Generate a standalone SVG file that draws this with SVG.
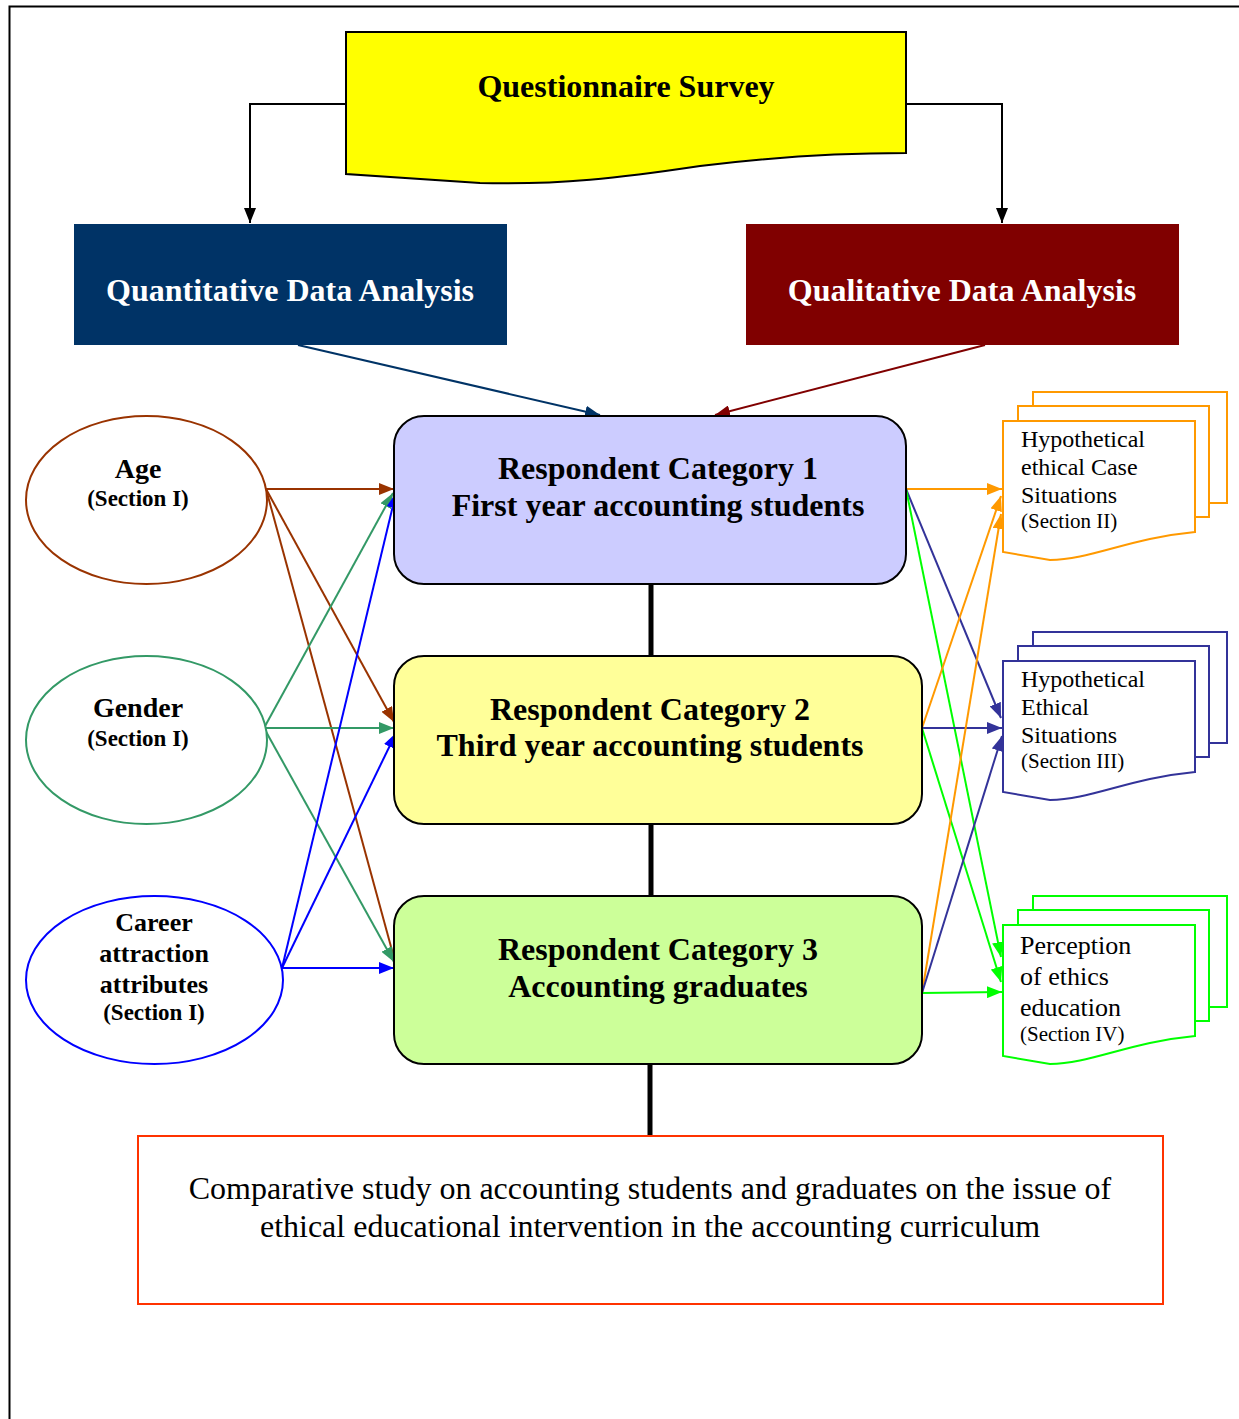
<svg xmlns="http://www.w3.org/2000/svg" width="1239" height="1419" viewBox="0 0 1239 1419">
  <style>
    .b { font-family: "Liberation Serif", "Times New Roman", serif; font-weight: bold; }
    .r { font-family: "Liberation Serif", "Times New Roman", serif; }
    .c { text-anchor: middle; }
    .cat { font-size: 32px; fill: #000; }
    .head { font-size: 32px; fill: #fff; }
    .ell { fill: #fff; stroke-width: 2; }
    .page { fill: #fff; stroke-width: 2; }
    .doc { font-size: 24px; fill: #000; }
    .sec { font-size: 21px; fill: #000; }
    .ln { fill: none; stroke-width: 2; }
    .thick { stroke: #000; stroke-width: 5; }
  </style>
  <defs>
    <marker id="mBlack" markerUnits="userSpaceOnUse" viewBox="0 0 15 12" refX="15" refY="6" markerWidth="15" markerHeight="12" orient="auto"><path d="M0,0 L15,6 L0,12 Z" fill="#000"/></marker>
    <marker id="mNavyDark" markerUnits="userSpaceOnUse" viewBox="0 0 15 12" refX="15" refY="6" markerWidth="15" markerHeight="12" orient="auto"><path d="M0,0 L15,6 L0,12 Z" fill="#003366"/></marker>
    <marker id="mMaroon" markerUnits="userSpaceOnUse" viewBox="0 0 15 12" refX="15" refY="6" markerWidth="15" markerHeight="12" orient="auto"><path d="M0,0 L15,6 L0,12 Z" fill="#800000"/></marker>
    <marker id="mBrown" markerUnits="userSpaceOnUse" viewBox="0 0 15 12" refX="15" refY="6" markerWidth="15" markerHeight="12" orient="auto"><path d="M0,0 L15,6 L0,12 Z" fill="#993300"/></marker>
    <marker id="mSea" markerUnits="userSpaceOnUse" viewBox="0 0 15 12" refX="15" refY="6" markerWidth="15" markerHeight="12" orient="auto"><path d="M0,0 L15,6 L0,12 Z" fill="#339966"/></marker>
    <marker id="mBlue" markerUnits="userSpaceOnUse" viewBox="0 0 15 12" refX="15" refY="6" markerWidth="15" markerHeight="12" orient="auto"><path d="M0,0 L15,6 L0,12 Z" fill="#0000FF"/></marker>
    <marker id="mOrange" markerUnits="userSpaceOnUse" viewBox="0 0 15 12" refX="15" refY="6" markerWidth="15" markerHeight="12" orient="auto"><path d="M0,0 L15,6 L0,12 Z" fill="#FF9900"/></marker>
    <marker id="mIndigo" markerUnits="userSpaceOnUse" viewBox="0 0 15 12" refX="15" refY="6" markerWidth="15" markerHeight="12" orient="auto"><path d="M0,0 L15,6 L0,12 Z" fill="#333399"/></marker>
    <marker id="mLime" markerUnits="userSpaceOnUse" viewBox="0 0 15 12" refX="15" refY="6" markerWidth="15" markerHeight="12" orient="auto"><path d="M0,0 L15,6 L0,12 Z" fill="#00FF00"/></marker>
    <!-- stacked document shape: three pages, front page with wavy bottom -->
    <g id="docStack">
      <rect class="page" x="1033" y="392" width="194" height="111"/>
      <rect class="page" x="1018" y="406" width="191" height="111"/>
      <path class="page" d="M1003,421 H1195 V532 C1130,538 1090,560 1050,560 L1003,552 Z"/>
    </g>
  </defs>

  <rect width="1239" height="1419" fill="#fff"/>
  <!-- page frame -->
  <path d="M9.5,1419 V6.5 H1239" fill="none" stroke="#000" stroke-width="2"/>

  <g id="connectors">
    <!-- survey to analysis boxes -->
    <path class="ln" stroke="#000" d="M346,104 H250 V223" marker-end="url(#mBlack)"/>
    <path class="ln" stroke="#000" d="M906,104 H1002 V223" marker-end="url(#mBlack)"/>
    <!-- analysis boxes to category 1 -->
    <line class="ln" stroke="#003366" x1="298" y1="345" x2="600" y2="415" marker-end="url(#mNavyDark)"/>
    <line class="ln" stroke="#800000" x1="985" y1="345" x2="715" y2="415" marker-end="url(#mMaroon)"/>
    <!-- category spine -->
    <line class="thick" x1="651" y1="584" x2="651" y2="656"/>
    <line class="thick" x1="651" y1="824" x2="651" y2="896"/>
    <line class="thick" x1="650" y1="1064" x2="650" y2="1136"/>
    <!-- age -->
    <line class="ln" stroke="#993300" x1="266" y1="489" x2="394" y2="489" marker-end="url(#mBrown)"/>
    <line class="ln" stroke="#993300" x1="266" y1="489" x2="394" y2="722" marker-end="url(#mBrown)"/>
    <line class="ln" stroke="#993300" x1="266" y1="489" x2="396" y2="965" marker-end="url(#mBrown)"/>
    <!-- gender -->
    <line class="ln" stroke="#339966" x1="264" y1="728" x2="393" y2="493" marker-end="url(#mSea)"/>
    <line class="ln" stroke="#339966" x1="264" y1="728" x2="394" y2="728" marker-end="url(#mSea)"/>
    <line class="ln" stroke="#339966" x1="264" y1="728" x2="394" y2="962" marker-end="url(#mSea)"/>
    <!-- career attraction -->
    <line class="ln" stroke="#0000FF" x1="282" y1="968" x2="396" y2="493" marker-end="url(#mBlue)"/>
    <line class="ln" stroke="#0000FF" x1="282" y1="968" x2="396" y2="733" marker-end="url(#mBlue)"/>
    <line class="ln" stroke="#0000FF" x1="282" y1="968" x2="394" y2="968" marker-end="url(#mBlue)"/>
    <!-- category 1 outputs -->
    <line class="ln" stroke="#FF9900" x1="906" y1="489" x2="1002" y2="489" marker-end="url(#mOrange)"/>
    <line class="ln" stroke="#333399" x1="906" y1="489" x2="1001" y2="718" marker-end="url(#mIndigo)"/>
    <line class="ln" stroke="#00FF00" x1="906" y1="489" x2="1001" y2="957" marker-end="url(#mLime)"/>
    <!-- category 2 outputs -->
    <line class="ln" stroke="#FF9900" x1="922" y1="728" x2="1001" y2="496" marker-end="url(#mOrange)"/>
    <line class="ln" stroke="#333399" x1="922" y1="728" x2="1002" y2="728" marker-end="url(#mIndigo)"/>
    <line class="ln" stroke="#00FF00" x1="922" y1="728" x2="1001" y2="982" marker-end="url(#mLime)"/>
    <!-- category 3 outputs -->
    <line class="ln" stroke="#FF9900" x1="922" y1="993" x2="1001" y2="514" marker-end="url(#mOrange)"/>
    <line class="ln" stroke="#333399" x1="922" y1="993" x2="1002" y2="736" marker-end="url(#mIndigo)"/>
    <line class="ln" stroke="#00FF00" x1="922" y1="993" x2="1002" y2="992" marker-end="url(#mLime)"/>
  </g>

  <g id="survey">
    <path d="M346,32 H906 V153 C840,153 780,156 700,166 C620,178 560,185 480,183 L346,174 Z" fill="#FFFF00" stroke="#000" stroke-width="2"/>
    <text class="b c cat" x="626" y="97">Questionnaire Survey</text>
  </g>

  <g id="quantitative">
    <rect x="74" y="224" width="433" height="121" fill="#003366"/>
    <text class="b c head" x="290" y="301">Quantitative Data Analysis</text>
  </g>

  <g id="qualitative">
    <rect x="746" y="224" width="433" height="121" fill="#800000"/>
    <text class="b c head" x="962" y="301">Qualitative Data Analysis</text>
  </g>

  <g id="category1">
    <rect x="394" y="416" width="512" height="168" rx="30" fill="#CCCCFF" stroke="#000" stroke-width="2"/>
    <text class="b c cat" x="658" y="479">Respondent Category 1</text>
    <text class="b c cat" x="658" y="516">First year accounting students</text>
  </g>

  <g id="category2">
    <rect x="394" y="656" width="528" height="168" rx="30" fill="#FFFF99" stroke="#000" stroke-width="2"/>
    <text class="b c cat" x="650" y="720">Respondent Category 2</text>
    <text class="b c cat" x="650" y="756">Third year accounting students</text>
  </g>

  <g id="category3">
    <rect x="394" y="896" width="528" height="168" rx="30" fill="#CCFF99" stroke="#000" stroke-width="2"/>
    <text class="b c cat" x="658" y="960">Respondent Category 3</text>
    <text class="b c cat" x="658" y="997">Accounting graduates</text>
  </g>

  <g id="age">
    <ellipse class="ell" cx="146.5" cy="500" rx="120.5" ry="84" stroke="#993300"/>
    <text class="b c" x="138" y="478" font-size="28">Age</text>
    <text class="b c" x="138" y="506" font-size="23">(Section I)</text>
  </g>

  <g id="gender">
    <ellipse class="ell" cx="146.5" cy="740" rx="120.5" ry="84" stroke="#339966"/>
    <text class="b c" x="138" y="717" font-size="28">Gender</text>
    <text class="b c" x="138" y="746" font-size="23">(Section I)</text>
  </g>

  <g id="career">
    <ellipse class="ell" cx="154.5" cy="980" rx="128.5" ry="84" stroke="#0000FF"/>
    <text class="b c" x="154" y="931" font-size="26">Career</text>
    <text class="b c" x="154" y="962" font-size="26">attraction</text>
    <text class="b c" x="154" y="993" font-size="26">attributes</text>
    <text class="b c" x="154" y="1020" font-size="23">(Section I)</text>
  </g>

  <g id="caseSituations" stroke="#FF9900">
    <use href="#docStack"/>
    <text class="r doc" x="1021" y="447" stroke="none">Hypothetical</text>
    <text class="r doc" x="1021" y="475" stroke="none">ethical Case</text>
    <text class="r doc" x="1021" y="503" stroke="none">Situations</text>
    <text class="r sec" x="1021" y="528" stroke="none">(Section II)</text>
  </g>

  <g id="ethicalSituations" stroke="#333399">
    <use href="#docStack" y="240"/>
    <text class="r doc" x="1021" y="687" stroke="none">Hypothetical</text>
    <text class="r doc" x="1021" y="715" stroke="none">Ethical</text>
    <text class="r doc" x="1021" y="743" stroke="none">Situations</text>
    <text class="r sec" x="1021" y="768" stroke="none">(Section III)</text>
  </g>

  <g id="ethicsEducation" stroke="#00FF00">
    <use href="#docStack" y="504"/>
    <text class="r" x="1020" y="954" font-size="26" stroke="none">Perception</text>
    <text class="r" x="1020" y="985" font-size="26" stroke="none">of ethics</text>
    <text class="r" x="1020" y="1016" font-size="26" stroke="none">education</text>
    <text class="r sec" x="1020" y="1041" stroke="none">(Section IV)</text>
  </g>

  <g id="study">
    <rect x="138" y="1136" width="1025" height="168" fill="#fff" stroke="#FF3300" stroke-width="2"/>
    <text class="r c" x="650" y="1199" font-size="32">Comparative study on accounting students and graduates on the issue of</text>
    <text class="r c" x="650" y="1237" font-size="32">ethical educational intervention in the accounting curriculum</text>
  </g>
</svg>
